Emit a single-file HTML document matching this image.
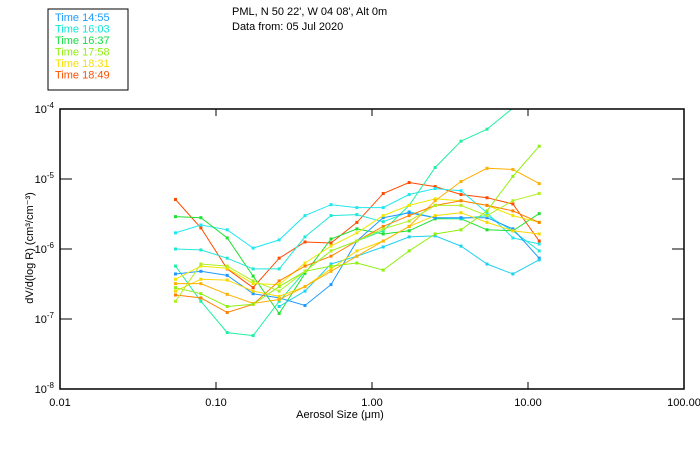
<!DOCTYPE html>
<html><head><meta charset="utf-8"><style>
body{margin:0;background:#fff;}
svg{display:block;font-family:"Liberation Sans",sans-serif;}
</style></head><body>
<svg id="chart" width="700" height="450">
<rect x="48" y="9" width="80" height="81" fill="none" stroke="#000" stroke-width="1"/>
<text x="232" y="15" font-size="11" fill="#000">PML, N 50 22', W 04 08', Alt 0m</text>
<text x="232" y="30" font-size="11" fill="#000">Data from: 05 Jul 2020</text>
<text x="340" y="418" font-size="11" text-anchor="middle">Aerosol Size (μm)</text>
<text transform="translate(33,248) rotate(-90)" font-size="11" text-anchor="middle">dV/d(log R) (cm³/cm⁻³)</text>
</svg>
<script>
const sizes = [0.055,0.080,0.118,0.173,0.254,0.372,0.546,0.80,1.18,1.73,2.54,3.72,5.46,8.0,11.8];
const xTicks = [0.01,0.1,1,10,100];
const xTickLabels = ["0.01","0.10","1.00","10.00","100.00"];
const yTicks = [-8,-7,-6,-5,-4];
const legendLabels = ["Time 14:55","Time 16:03","Time 16:37","Time 17:58","Time 18:31","Time 18:49"];
const legendColors = ["#1e9cff","#10e8d8","#10e040","#90f010","#f8e000","#ff5000"];
const s1 = [5.1e-6,2.0e-6,5.2e-7,2.8e-7,7.4e-7,1.26e-6,1.22e-6,2.4e-6,6.2e-6,8.9e-6,7.8e-6,6.0e-6,5.4e-6,4.4e-6,1.30e-6];
const s2 = [1.70e-6,2.2e-6,1.88e-6,1.03e-6,1.35e-6,3.0e-6,4.3e-6,3.9e-6,3.9e-6,6.0e-6,7.3e-6,6.8e-6,3.3e-6,1.44e-6,1.18e-6];
const s3 = [2.9e-6,2.8e-6,1.44e-6,4.1e-7,1.20e-7,4.5e-7,1.39e-6,1.94e-6,1.64e-6,1.82e-6,2.7e-6,2.7e-6,1.88e-6,1.82e-6,3.2e-6];
const s4 = [1.0e-6,9.7e-7,7.4e-7,5.2e-7,5.2e-7,1.49e-6,3.0e-6,3.1e-6,2.45e-6,3.4e-6,2.8e-6,2.7e-6,3.0e-6,1.82e-6,9.4e-7];
const s5 = [5.7e-7,1.79e-7,6.4e-8,5.8e-8,1.79e-7,4.8e-7,9.4e-7,1.30e-6,1.82e-6,4.2e-6,1.46e-5,3.47e-5,5.15e-5,1.03e-4,1.87e-4];
const s6 = [4.4e-7,4.8e-7,4.2e-7,2.3e-7,2.0e-7,1.56e-7,3.1e-7,1.30e-6,2.8e-6,3.3e-6,2.8e-6,2.8e-6,2.8e-6,1.94e-6,7.4e-7];
const s7 = [null,null,null,null,1.51e-7,2.5e-7,6.1e-7,7.9e-7,1.07e-6,1.49e-6,1.54e-6,1.10e-6,6.1e-7,4.4e-7,7.0e-7];
const s8 = [3.7e-7,5.7e-7,5.3e-7,3.2e-7,3.1e-7,6.3e-7,1.10e-6,1.70e-6,3.0e-6,4.2e-6,5.2e-6,4.9e-6,4.2e-6,3.0e-6,2.4e-6];
const s9 = [2.5e-7,3.7e-7,3.6e-7,2.5e-7,2.1e-7,2.9e-7,5.2e-7,9.4e-7,1.30e-6,2.1e-6,3.0e-6,3.3e-6,2.4e-6,1.82e-6,1.64e-6];
const s10 = [3.2e-7,3.2e-7,2.25e-7,1.67e-7,1.9e-7,2.9e-7,4.8e-7,7.9e-7,1.30e-6,2.1e-6,4.9e-6,9.2e-6,1.42e-5,1.37e-5,8.6e-6];
const s11 = [2.2e-7,2.0e-7,1.24e-7,1.62e-7,3.5e-7,5.7e-7,7.9e-7,1.30e-6,2.1e-6,3.0e-6,4.2e-6,4.9e-6,4.2e-6,3.5e-6,2.4e-6];
const s12 = [2.8e-7,2.3e-7,1.51e-7,1.62e-7,2.9e-7,4.8e-7,5.7e-7,6.3e-7,5.0e-7,9.4e-7,1.64e-6,1.88e-6,3.5e-6,1.09e-5,2.94e-5];
const s13 = [1.79e-7,6.1e-7,5.7e-7,3.5e-7,2.5e-7,4.8e-7,9.4e-7,1.30e-6,1.94e-6,2.5e-6,4.2e-6,4.2e-6,3.0e-6,4.9e-6,6.2e-6];
const seriesList = [s1,s2,s3,s4,s5,s6,s7,s8,s9,s10,s11,s12,s13];
const seriesColors = ["#ff4a00","#20e8f0","#20e030","#20e8d8","#20f0a0","#2098ff","#20d0f0","#f0e800","#f8d800","#ffb000","#ff8000","#90f010","#b0f020"];

const NS="http://www.w3.org/2000/svg";
const svg=document.getElementById('chart');
const L=60,R=684,T=109,B=389;
function xScale(v){return L+(Math.log10(v)+2)/4*(R-L);}
function yScale(v){return B-(Math.log10(v)+8)/4*(B-T);}
function mk(tag,attrs){const e=document.createElementNS(NS,tag);for(const k in attrs)e.setAttribute(k,attrs[k]);svg.appendChild(e);return e;}

const defs=mk('defs',{});
const cp=document.createElementNS(NS,'clipPath');cp.setAttribute('id','plotclip');
const cr=document.createElementNS(NS,'rect');cr.setAttribute('x',L);cr.setAttribute('y',T);cr.setAttribute('width',R-L);cr.setAttribute('height',B-T);
cp.appendChild(cr);defs.appendChild(cp);

seriesList.forEach((s,i)=>{
  const g=mk('g',{'clip-path':'url(#plotclip)'});
  
  
  let pts=[];
  s.forEach((v,j)=>{if(v!==null)pts.push([xScale(sizes[j]),yScale(v)]);});
  const pl=document.createElementNS(NS,'polyline');
  pl.setAttribute('points',pts.map(p=>p[0].toFixed(1)+','+p[1].toFixed(1)).join(' '));
  pl.setAttribute('fill','none');pl.setAttribute('stroke',seriesColors[i]);pl.setAttribute('stroke-width','1');
  
  
  g.appendChild(pl);
  pts.forEach(p=>{
    const r=document.createElementNS(NS,'rect');
    r.setAttribute('x',p[0]-1.5);r.setAttribute('y',p[1]-1.5);r.setAttribute('width',3);r.setAttribute('height',3);
    r.setAttribute('fill',seriesColors[i]);
    
    
    g.appendChild(r);
  });
  svg.appendChild(g);
});

const frame=mk('rect',{x:L,y:T,width:R-L,height:B-T,fill:'none',stroke:'#000','stroke-width':1.5});



xTicks.forEach((v,i)=>{
  const x=xScale(v);
  const t1=mk('line',{x1:x,x2:x,y1:B,y2:B-7,stroke:'#000'});
  
  
  const t2=mk('line',{x1:x,x2:x,y1:T,y2:T+7,stroke:'#000'});
  
  
  const tx=mk('text',{x:x,y:B+17,'font-size':11,'text-anchor':'middle'});
  tx.textContent=xTickLabels[i];
  
  
});
yTicks.forEach(e=>{
  const y=yScale(Math.pow(10,e));
  const t1=mk('line',{x1:L,x2:L+12,y1:y,y2:y,stroke:'#000'});
  
  
  const t2=mk('line',{x1:R,x2:R-12,y1:y,y2:y,stroke:'#000'});
  
  
  const tx=mk('text',{x:54,y:y+4,'font-size':11,'text-anchor':'end'});
  tx.innerHTML='10<tspan dy="-5" font-size="8">'+e+'</tspan>';
  
  
});
legendLabels.forEach((lab,i)=>{
  const tx=mk('text',{x:55,y:21+i*11.5,'font-size':11,fill:legendColors[i]});
  tx.textContent=lab;
  
  
});
</script>
</body></html>
